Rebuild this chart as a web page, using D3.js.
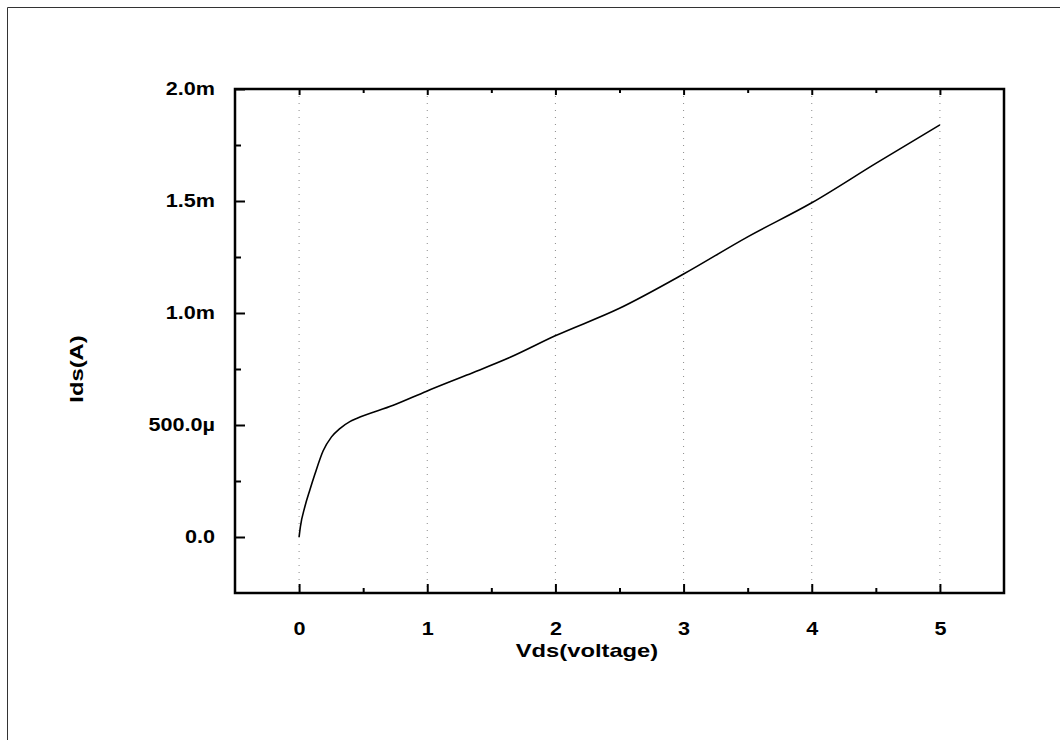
<!DOCTYPE html>
<html>
<head>
<meta charset="utf-8">
<script src="https://cdn.jsdelivr.net/npm/d3@7/dist/d3.min.js"></script>
<style>
body { margin: 0; background: #fff; }
text { font-family: "Liberation Sans", Arial, sans-serif; font-weight: bold; fill: #000; }
</style>
</head>
<body>
<div id="chart"></div>
<script>
// Vds in volts, Ids in microamps
var vds = [0, 0.01, 0.045, 0.084, 0.123, 0.188, 0.253, 0.318, 0.396, 0.449, 0.735, 0.996, 1.309, 1.647, 1.994, 2.5, 3.0, 3.5, 4.0, 4.5, 5.0]
var ids = [0, 45, 135, 210, 280, 385, 447, 484, 515, 529, 588, 651, 723, 802, 897, 1021, 1174, 1340, 1492, 1668, 1840]

var xTicks = [0, 1, 2, 3, 4, 5]
var xTickLabels = ["0", "1", "2", "3", "4", "5"]
var yTicks = [0, 500e-6, 1.0e-3, 1.5e-3, 2.0e-3]
var yTickLabels = ["0.0", "500.0\u00b5", "1.0m", "1.5m", "2.0m"]
var xMinor = [0.5, 1.5, 2.5, 3.5, 4.5]
var yMinor = [250e-6, 750e-6, 1.25e-3, 1.75e-3]

var margin = {top: 89, left: 235},
  width = 1004 - 235,
  height = 593 - 89,
  stretch = 1.2;

var root = d3.select("#chart")
  .append("svg")
  .attr("width", 1060)
  .attr("height", 740)

root.append("rect")
  .attr("width", 1060)
  .attr("height", 740)
  .attr("fill", "#fff")

// outer page frame
root.append("path")
  .attr("d", "M7.5,740V7.5H1060")
  .attr("fill", "none")
  .attr("stroke", "#333")
  .attr("stroke-width", 1)

var svg = root.append("g")
  .attr("transform", "translate(" + margin.left + "," + margin.top + ")")

var x = d3.scaleLinear()
  .domain([-0.5, 5.5])
  .range([0, width])

var y = d3.scaleLinear()
  .domain([-0.25e-3, 2.0e-3])
  .range([height, 0])

svg.selectAll(".grid")
  .data(xTicks)
  .enter()
  .append("line")
  .attr("class", "grid")
  .attr("x1", function(d) { return x(d) })
  .attr("x2", function(d) { return x(d) })
  .attr("y1", 0)
  .attr("y2", height)
  .attr("stroke", "#8a8a8a")
  .attr("stroke-width", 1)
  .attr("stroke-dasharray", "1,6")

function styleAxis(g) {
  g.select(".domain").remove()
  g.selectAll(".tick line").attr("stroke", "#000").attr("stroke-width", 2)
}

// bottom
svg.append("g")
  .attr("transform", "translate(0," + height + ")")
  .call(d3.axisBottom(x).tickValues(xMinor).tickSize(-5).tickFormat(""))
  .call(styleAxis)

var xAxis = svg.append("g")
  .attr("transform", "translate(0," + height + ")")
  .call(d3.axisBottom(x).tickValues(xTicks).tickSize(-9)
    .tickFormat(function(d, i) { return xTickLabels[i] }))
  .call(styleAxis)

xAxis.selectAll("text")
  .attr("y", 42)
  .attr("dy", null)
  .attr("font-size", "18px")
  .attr("transform", "scale(" + stretch + ",1)")

// top
svg.append("g")
  .call(d3.axisTop(x).tickValues(xMinor).tickSize(-4).tickFormat(""))
  .call(styleAxis)
svg.append("g")
  .call(d3.axisTop(x).tickValues(xTicks).tickSize(-6).tickFormat(""))
  .call(styleAxis)

// left
svg.append("g")
  .call(d3.axisLeft(y).tickValues(yMinor).tickSize(-6).tickFormat(""))
  .call(styleAxis)

var yAxis = svg.append("g")
  .call(d3.axisLeft(y).tickValues(yTicks).tickSize(-10)
    .tickFormat(function(d, i) { return yTickLabels[i] }))
  .call(styleAxis)

yAxis.selectAll("text")
  .attr("x", -20 / stretch)
  .attr("font-size", "18px")
  .attr("transform", "scale(" + stretch + ",1)")

svg.append("rect")
  .attr("width", width)
  .attr("height", height)
  .attr("fill", "none")
  .attr("stroke", "#000")
  .attr("stroke-width", 2.5)

var points = vds.map(function(v, i) { return [v, ids[i] * 1e-6] })

svg.append("path")
  .datum(points)
  .attr("fill", "none")
  .attr("stroke", "#000")
  .attr("stroke-width", 1.6)
  .attr("d", d3.line()
    .curve(d3.curveMonotoneX)
    .x(function(d) { return x(d[0]) })
    .y(function(d) { return y(d[1]) }))

root.append("text")
  .attr("transform", "translate(587,657) scale(1.25,1)")
  .attr("text-anchor", "middle")
  .attr("font-size", "19px")
  .text("Vds(voltage)")

root.append("text")
  .attr("transform", "translate(83,369) rotate(-90) scale(1.25,1)")
  .attr("text-anchor", "middle")
  .attr("font-size", "19px")
  .text("Ids(A)")
</script>
</body>
</html>
